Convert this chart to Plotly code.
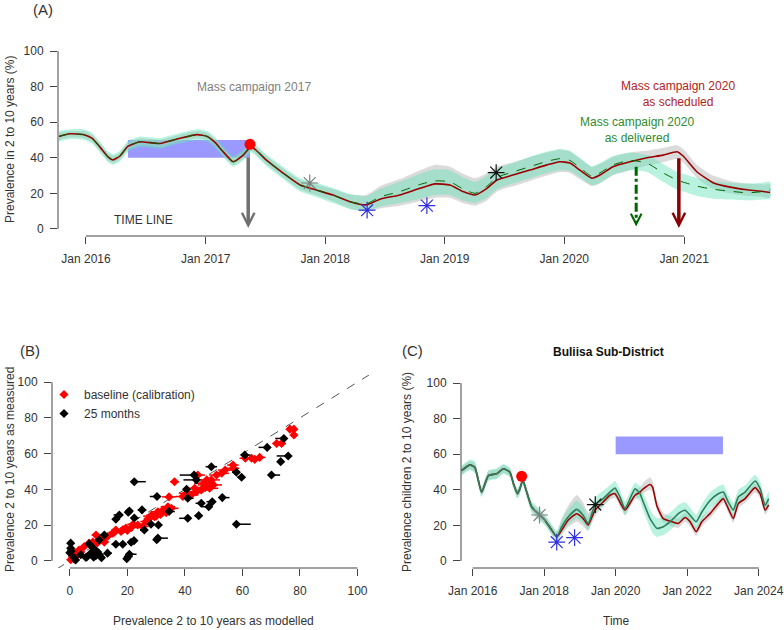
import plotly.graph_objects as go
from datetime import datetime

# ---------------- DATA ----------------
# Panel A: time (decimal years) and prevalence (%) of the two scenario means
A_t = [2015.774, 2015.866, 2015.983, 2016.050, 2016.117, 2016.184, 2016.226, 2016.284, 2016.351, 2016.452,
       2016.535, 2016.619, 2016.702, 2016.786, 2016.928, 2017.012, 2017.079, 2017.137, 2017.229, 2017.313,
       2017.380, 2017.505, 2017.647, 2017.789, 2017.923, 2018.065, 2018.207, 2018.341, 2018.458, 2018.625,
       2018.793, 2018.918, 2019.043, 2019.152, 2019.253, 2019.353, 2019.436, 2019.570, 2019.712, 2019.855,
       2019.963, 2020.047, 2020.130, 2020.231, 2020.298, 2020.406, 2020.548, 2020.691, 2020.824, 2020.941,
       2020.992, 2021.109, 2021.242, 2021.385, 2021.527, 2021.661, 2021.719]
A_sched = [52, 53.5, 53, 51, 46, 40.5, 38.8, 41, 46.5, 49,
           48.5, 48, 49.5, 51, 53, 52, 48.5, 44, 37.8, 41.5,
           46.3, 38.8, 31.4, 24.7, 21.9, 19, 15.3, 13.5, 16.7, 19.1,
           22.8, 25.3, 24.7, 21, 19.1, 22.8, 27.5, 30.3, 33.1, 36,
           37.8, 37, 33.1, 28.5, 30.3, 35, 37.8, 40, 41.5, 43.4,
           41, 32, 26, 23.5, 22, 21, 20.5]
A_deliv = [52, 53.5, 53, 51, 46, 40.5, 38.8, 41, 46.5, 49,
           48.5, 48, 49.5, 51, 53, 52, 48.5, 44, 37.8, 41.5,
           46.3, 38.8, 31.4, 24.7, 21.9, 19, 15.3, 14, 18, 21,
           25, 27, 26.5, 22.5, 20, 24, 29, 32, 35, 38,
           39.5, 38.5, 34.5, 29.5, 31.5, 36, 38.5, 37, 31.5, 27.5,
           26.3, 24, 22.3, 21.2, 20.3, 21, 22]
A_sched_lo = [50, 51.5, 51, 49, 44, 38.5, 37, 39, 44.5, 47,
              46.5, 46, 47.5, 49, 51, 50, 46.5, 42, 36, 39.5,
              44, 36.5, 29, 22, 19, 15.5, 11.5, 9.5, 11.5, 13,
              15.5, 17.5, 17.5, 14.5, 13, 16, 21, 24, 27, 30,
              32, 31.5, 28, 24, 25.5, 30, 33, 35.5, 37.5, 39.5,
              37.5, 28.5, 22.5, 20, 18.5, 18, 17.5]
A_sched_hi = [54, 55, 55, 53, 48, 42.5, 41, 43, 48.5, 51,
              50.5, 50, 51.5, 53, 55, 54, 50.5, 46, 40, 43.5,
              48, 41, 34, 27.5, 25, 22.5, 19.5, 19, 24, 28,
              33, 36, 35, 31, 28.5, 31.5, 35, 37.5, 40.5, 43,
              44.5, 43.5, 39.5, 35, 36.5, 40.5, 43, 44, 45.5, 47,
              45, 36, 30, 27, 25.5, 25, 25]
A_deliv_lo = [49, 50.5, 50, 48, 43, 37.5, 36, 38, 43.5, 46,
              45.5, 45, 46.5, 48, 50, 49, 45.5, 41, 35, 38.5,
              43, 35.5, 28, 21, 18, 14.5, 11, 10, 12.5, 14.5,
              17, 19, 19, 16, 14.5, 17.5, 22.5, 25.5, 28.5, 31.5,
              33, 32.5, 29, 24.5, 26, 30.5, 33, 32, 26.5, 22,
              21, 18.5, 17, 16.5, 16, 16.5, 17]
A_deliv_hi = [55, 56, 56, 54, 49, 43.5, 42, 44, 49.5, 52,
              51.5, 51, 52.5, 54, 56, 55, 51.5, 47, 41, 44.5,
              49, 42, 35, 28.5, 26, 23, 19.5, 18.5, 22.5, 26.5,
              31, 33.5, 33, 29, 26.5, 30, 34, 37, 40.5, 43.5,
              45, 44, 40, 35, 37, 41, 43, 41.5, 36.5, 32,
              31, 28.5, 27, 26, 25.5, 26, 26.5]

# Panel C: Buliisa sub-district projections
C_t = [2015.69, 2015.92, 2016.06, 2016.25, 2016.44, 2016.67, 2016.86, 2017.04, 2017.14, 2017.25,
       2017.32, 2017.40, 2017.51, 2017.65, 2017.83, 2018.02, 2018.21, 2018.35, 2018.49, 2018.67,
       2018.91, 2019.09, 2019.23, 2019.42, 2019.65, 2019.84, 2019.98, 2020.12, 2020.26, 2020.54,
       2020.68, 2020.77, 2020.96, 2021.03, 2021.15, 2021.33, 2021.57, 2021.75, 2021.94, 2022.08,
       2022.25, 2022.41, 2022.64, 2022.87, 2023.01, 2023.15, 2023.29, 2023.43, 2023.62, 2023.90,
       2024.04, 2024.18, 2024.28]
C_sched = [50.8, 54, 52.7, 38.7, 48, 49, 51.8, 49.9, 43.4, 37.8,
           40.6, 45.5, 38.7, 30.3, 26.6, 22.9, 17.3, 13.5, 17.3, 22.9,
           26.5, 23.8, 20.1, 28.5, 33.1, 36.9, 37.8, 33, 28.5, 36.9,
           38.7, 40.5, 43, 41.5, 31, 23.8, 22, 21, 24.4, 22,
           16.4, 22, 26.6, 32.2, 35, 29.4, 23.8, 32.2, 35, 41.2,
           37.8, 28.5, 31.5]
C_deliv = [50.8, 54, 52.7, 38.7, 48, 49, 51.8, 49.9, 43.4, 37.8,
           40.6, 45.5, 38.7, 30.3, 26.6, 22.9, 17.3, 13.5, 19.2, 24.7,
           29, 25.7, 21, 31.3, 35, 38.7, 41, 36, 29.4, 40.6,
           37.8, 33.1, 23.8, 21.5, 18.3, 19.2, 22.9, 26.6, 28.5, 25.7,
           22, 27.5, 34, 37.8, 38.7, 33.1, 28.5, 35.9, 38.7, 44.9,
           40.6, 31.3, 35]
C_sched_lo = [48.5, 51.5, 50, 36.5, 45.5, 46.5, 49.5, 47.5, 41, 35.5,
              38, 43, 36.5, 28, 24, 20.5, 15, 11.5, 14.5, 19,
              22, 19.5, 17, 25, 30.5, 34.5, 35.5, 30.5, 26, 34.5,
              36, 38, 40, 38.5, 28.5, 21.5, 19.5, 18.5, 22, 19.5,
              14, 19.5, 24, 29.5, 32.5, 27, 21.5, 29.5, 32.5, 38.5,
              35.5, 26, 29]
C_sched_hi = [53, 56, 55, 41, 50.5, 51.5, 54, 52, 45.5, 40,
              43, 48, 41, 32.5, 29, 25.5, 20, 16.5, 24, 31,
              37, 33, 27, 33, 36, 39.5, 40.5, 36, 31, 39.5,
              41.5, 44, 47, 45, 34, 27, 25, 24, 27, 24.5,
              19, 24.5, 29, 35, 37.5, 32, 26.5, 35, 37.5, 43.5,
              40, 31, 34]
C_deliv_lo = [48, 51, 49.5, 36, 45, 46, 49, 47, 40.5, 35,
              37.5, 42.5, 35.5, 27, 23.5, 20, 14.5, 11, 15.5, 20.5,
              24, 21, 17, 26.5, 31, 35, 37.5, 32, 25.5, 36,
              33.5, 28, 18.5, 15.5, 13.5, 14.5, 18, 22, 24, 21.5,
              18, 23, 29.5, 33.5, 34.5, 29, 24.5, 31.5, 34.5, 41,
              36.5, 27.5, 31]
C_deliv_hi = [53.5, 57, 56, 41.5, 51, 52, 54.5, 52.5, 46, 40.5,
              43.5, 48.5, 41.5, 33.5, 30, 26, 20.5, 16.5, 23, 29,
              34, 30.5, 25, 35.5, 39.5, 42.5, 45, 40, 33.5, 44,
              42, 38, 29, 26.5, 24, 24.5, 28, 31.5, 33, 30,
              26, 32, 38.5, 42, 43, 37, 32.5, 40, 42.5, 48.5,
              44.5, 35, 39]

# Survey observations (decimal year, prevalence %)
baseline_t, baseline_v = [2017.37], [47.6]
survey_grey_t, survey_grey_v = [2017.87], [25.8]
survey_blue_t, survey_blue_v = [2018.35, 2018.85], [10.5, 13.1]
survey_black_t, survey_black_v = [2019.43], [31.7]

# Campaign dates and time-line boxes
campaign_2017 = 2017.355
campaign_2020_delivered = 2020.60
campaign_2020_scheduled = 2020.956
timeline_A = [2016.35, 2017.37, 40, 50]
timeline_C = [2020.0, 2023.0, 60, 70]

# Panel B: modelled vs measured prevalence
red_x = [0.3, 0.9, 1.5, 2.0, 2.7, 3.2, 3.8, 5.0, 6.7, 8.0,
         9.1, 10.7, 11.5, 13.1, 14.9, 16.0, 17.8, 18.5, 19.5, 21.3,
         22.0, 23.6, 25.3, 26.5, 27.7, 28.5, 29.4, 30.6, 31.5, 32.4,
         33.5, 34.1, 35.3, 36.4, 39.3, 40.5, 42.2, 43.4, 44.0, 45.7,
         46.4, 47.0, 47.5, 47.6, 48.6, 49.2, 49.9, 51.0, 52.8, 54.0,
         56.7, 56.9, 61.0, 63.2, 64.3, 66.0, 71.9, 73.6, 76.5, 77.9,
         77.9, 34.5, 30.0, 28.0, 20.0, 15.5, 12.0, 9.5, 44.5, 48.0]
red_y = [0.6, 2.4, 1.0, 4.5, 3.4, 6.1, 5.0, 8.0, 9.9, 10.5,
         14.5, 11.7, 12.5, 13.6, 15.5, 17.3, 16.4, 17.5, 18.3, 18.7,
         20.5, 20.1, 19.2, 22.0, 23.8, 25.5, 24.7, 27.5, 26.0, 28.5,
         27.0, 30.3, 29.4, 44.3, 36.0, 37.8, 36.9, 40.6, 38.7, 39.7,
         43.4, 41.0, 42.5, 45.3, 40.6, 45.3, 42.5, 48.0, 49.0, 50.8,
         53.6, 51.8, 57.4, 57.4, 56.8, 57.9, 65.7, 65.7, 73.7, 73.7,
         70.4, 35.8, 25.0, 25.0, 17.0, 16.0, 10.5, 10.0, 48.0, 44.0]
red_err = [0.5, 0.5, 0.5, 1, 1, 1, 1, 1, 1, 1,
           1.5, 1.5, 1.5, 1.5, 1.5, 1.5, 2, 2, 2, 2,
           2, 2, 2, 2, 2, 2, 2, 2.5, 2, 2.5,
           2, 2.5, 2.5, 1.5, 2.5, 2.5, 2.5, 3, 2.5, 3,
           3, 3, 3, 2.5, 3, 3, 3, 2.5, 2.5, 2.5,
           2, 2, 2, 2, 2, 2, 1.5, 1.5, 1, 1,
           1, 2.5, 2.5, 2.5, 2, 2, 1.5, 1.5, 2.5, 2.5]
black_x = [22.4, 30.3, 25.1, 20.7, 20.3, 17.2, 16.0, 22.4, 41.0, 44.8,
           25.9, 28.2, 30.8, 30.6, 30.2, 12.0, 10.2, 16.0, 18.4, 21.3,
           22.3, 13.1, 20.7, 20.3, 19.8, 0.3, 0.3, 0.5, 0.0, 1.5,
           3.8, 6.1, 7.3, 8.2, 9.1, 9.7, 11.0, 6.7, 45.7, 48.3,
           44.0, 49.2, 41.0, 40.6, 43.2, 75.9, 73.3, 74.4, 68.6, 60.8,
           57.9, 70.1, 53.0, 49.5, 57.9, 59.7, 34.5, 2.0, 5.6, 8.3, 10.3]
black_y = [44.3, 36.0, 28.5, 27.9, 27.2, 25.7, 23.3, 24.0, 23.8, 25.3,
           17.3, 20.5, 20.1, 12.7, 11.8, 14.5, 11.7, 9.3, 9.3, 10.4,
           11.3, 4.3, 3.7, 2.4, 1.2, 9.9, 7.0, 5.5, 4.5, 1.7,
           3.4, 2.4, 4.3, 7.1, 3.0, 4.9, 1.8, 9.5, 32.2, 30.3,
           45.3, 52.7, 35.0, 40.0, 48.0, 58.7, 55.5, 68.5, 63.5, 59.2,
           20.5, 48.0, 35.4, 33.1, 49.6, 46.8, 27.6, 0.5, 1.9, 2.0, 3.4]
black_minus = [0, 2.5, 1.5, 1, 1, 2, 1, 1, 3, 1.5,
               1.5, 1, 1, 1, 1, 1.5, 1, 1.5, 1, 1,
               1, 1, 1, 1, 0.5, 0.3, 0.3, 0.3, 0.2, 0.5,
               0.5, 1, 1, 1, 1, 1, 1, 1, 2, 2.5,
               4.5, 2, 0.5, 1, 5, 4, 1, 3, 3, 1,
               0.5, 0.5, 0.5, 2, 1.5, 1.5, 0.5, 0.5, 1, 1, 1]
black_plus = [4, 0.5, 1.5, 1, 1, 0.5, 1, 1.5, 0.5, 0.5,
              0.5, 1, 0.5, 3.5, 1, 1, 1, 1, 1, 1,
              1, 1.5, 2.5, 1.5, 1, 0.5, 0.5, 0.5, 0.5, 1,
              1, 1, 1, 1, 1, 1, 1, 1, 1, 0.5,
              0, 2, 2, 1, 0, 0.5, 1, 0.5, 0.5, 2,
              5, 3, 2.5, 0.5, 1, 0.5, 2, 0.5, 1, 1, 1]
identity = [-10, 110]

A_xticks = [2016, 2017, 2018, 2019, 2020, 2021]
C_xticks = [2016, 2018, 2020, 2022, 2024]
y_ticks = [0, 20, 40, 60, 80, 100]


# ---------------- HELPERS ----------------
def to_date(y):
    yr = int(y)
    s, e = datetime(yr, 1, 1), datetime(yr + 1, 1, 1)
    return s + (e - s) * (y - yr)


def dates(ts):
    return [to_date(v) for v in ts]


W, H = 784, 630
TXT = "#333333"
AX = "#444444"
FONT = "Liberation Sans, Arial, sans-serif"

GREY_BAND = "rgba(195,195,195,0.6)"
AQUA_BAND = "rgba(100,228,185,0.45)"
DARKRED = "#990000"
DARKGREEN = "#006400"

fig = go.Figure()


def band(ts, lo, hi, color, xa, ya):
    d = dates(ts)
    fig.add_trace(go.Scatter(x=d + d[::-1], y=list(hi) + list(lo)[::-1], fill="toself",
                             fillcolor=color, mode="lines", line=dict(width=0, shape="spline", smoothing=0.5),
                             hoverinfo="skip", showlegend=False, xaxis=xa, yaxis=ya))


def line(ts, v, color, width, dash, xa, ya):
    fig.add_trace(go.Scatter(x=dates(ts), y=v, mode="lines",
                             line=dict(color=color, width=width, dash=dash, shape="spline", smoothing=0.5),
                             hoverinfo="skip", showlegend=False, xaxis=xa, yaxis=ya))


def survey_marks(xa, ya):
    fig.add_trace(go.Scatter(x=dates(baseline_t), y=baseline_v, mode="markers",
                             marker=dict(symbol="circle", size=11, color="#FF0000"),
                             showlegend=False, xaxis=xa, yaxis=ya))
    for ts, vs, col in [(survey_grey_t, survey_grey_v, "#7F7F7F"),
                        (survey_blue_t, survey_blue_v, "#3030E0"),
                        (survey_black_t, survey_black_v, "#111111")]:
        fig.add_trace(go.Scatter(x=dates(ts), y=vs, mode="markers",
                                 marker=dict(symbol="asterisk-open", size=14, color=col,
                                             line=dict(width=1.2, color=col)),
                                 showlegend=False, xaxis=xa, yaxis=ya))


# ---- Panel A ----
band(A_t, A_sched_lo, A_sched_hi, GREY_BAND, "x", "y")
band(A_t, A_deliv_lo, A_deliv_hi, AQUA_BAND, "x", "y")
line(A_t, A_sched, DARKRED, 1.6, "solid", "x", "y")
line(A_t, A_deliv, DARKGREEN, 1.0, "dash", "x", "y")
survey_marks("x", "y")

# ---- Panel C ----
band(C_t, C_sched_lo, C_sched_hi, GREY_BAND, "x3", "y3")
band(C_t, C_deliv_lo, C_deliv_hi, AQUA_BAND, "x3", "y3")
line(C_t, C_sched, "#A00000", 1.6, "solid", "x3", "y3")
line(C_t, C_deliv, "#2E7D5B", 1.6, "solid", "x3", "y3")
survey_marks("x3", "y3")

# ---- Panel B ----
fig.add_trace(go.Scatter(x=identity, y=identity, mode="lines",
                         line=dict(color="#555555", width=1, dash="dash"),
                         showlegend=False, hoverinfo="skip", xaxis="x2", yaxis="y2"))
fig.add_trace(go.Scatter(x=red_x, y=red_y, mode="markers", name="baseline (calibration)",
                         marker=dict(symbol="diamond", size=7, color="#FF0000"),
                         error_x=dict(type="data", array=red_err, arrayminus=red_err,
                                      color="#FF0000", thickness=1.5, width=0),
                         xaxis="x2", yaxis="y2"))
fig.add_trace(go.Scatter(x=black_x, y=black_y, mode="markers", name="25 months",
                         marker=dict(symbol="diamond", size=7, color="#000000"),
                         error_x=dict(type="data", array=black_plus, arrayminus=black_minus,
                                      color="#000000", thickness=1.5, width=0),
                         xaxis="x2", yaxis="y2"))

# ---------------- AXES ----------------
A_dom_x = [58 / W, 771 / W]
A_dom_y = [1 - 236 / H, 1 - 44 / H]
B_dom_x = [52 / W, 369 / W]
B_dom_y = [1 - 568 / H, 1 - 375 / H]
C_dom_x = [461 / W, 770 / W]
C_dom_y = [1 - 568 / H, 1 - 376 / H]

A_range = [2015.766, 2021.727]
C_range = [2015.674, 2024.316]
B_xrange = [-6.2, 104]
Y_range = [-4, 104]

common = dict(showgrid=False, zeroline=False, showline=False, ticks="outside", ticklen=7,
              tickcolor=AX, tickwidth=1, automargin=False,
              tickfont=dict(size=12, color=TXT, family=FONT))

fig.update_layout(
    xaxis=dict(domain=A_dom_x, anchor="y", type="date", range=[to_date(A_range[0]), to_date(A_range[1])],
               tickvals=dates(A_xticks), ticktext=["Jan %d" % y for y in A_xticks],
               ticklabelstandoff=5, **common),
    yaxis=dict(domain=A_dom_y, anchor="x", range=Y_range, tickvals=y_ticks, ticklabelstandoff=4, **common),
    xaxis2=dict(domain=B_dom_x, anchor="y2", range=B_xrange, tickvals=y_ticks, ticklabelstandoff=5, **common),
    yaxis2=dict(domain=B_dom_y, anchor="x2", range=Y_range, tickvals=y_ticks, ticklabelstandoff=4, **common),
    xaxis3=dict(domain=C_dom_x, anchor="y3", type="date", range=[to_date(C_range[0]), to_date(C_range[1])],
                tickvals=dates(C_xticks), ticktext=["Jan %d" % y for y in C_xticks],
                ticklabelstandoff=5, **common),
    yaxis3=dict(domain=C_dom_y, anchor="x3", range=Y_range, tickvals=y_ticks, ticklabelstandoff=4, **common),
)


# R-style detached axis lines (from first to last tick)
def frac(v, rng):
    return (v - rng[0]) / (rng[1] - rng[0])


shapes = []
for xa, ya, xr, xt in [("x", "y", A_range, A_xticks), ("x2", "y2", B_xrange, y_ticks),
                       ("x3", "y3", C_range, C_xticks)]:
    shapes.append(dict(type="line", xref=xa + " domain", yref=ya + " domain",
                       x0=frac(xt[0], xr), x1=frac(xt[-1], xr), y0=0, y1=0,
                       line=dict(color=AX, width=1)))
    shapes.append(dict(type="line", xref=xa + " domain", yref=ya + " domain",
                       x0=0, x1=0, y0=frac(y_ticks[0], Y_range), y1=frac(y_ticks[-1], Y_range),
                       line=dict(color=AX, width=1)))

# time-line boxes
shapes.append(dict(type="rect", xref="x", yref="y", x0=to_date(timeline_A[0]), x1=to_date(timeline_A[1]),
                   y0=timeline_A[2], y1=timeline_A[3], fillcolor="#9999FF", line=dict(width=0), layer="below"))
shapes.append(dict(type="rect", xref="x3", yref="y3", x0=to_date(timeline_C[0]), x1=to_date(timeline_C[1]),
                   y0=timeline_C[2], y1=timeline_C[3], fillcolor="#9999FF", line=dict(width=0), layer="below"))
# dash-dot shaft of the "as delivered" arrow
shapes.append(dict(type="line", xref="x", yref="y",
                   x0=to_date(campaign_2020_delivered), x1=to_date(campaign_2020_delivered),
                   y0=35, y1=4, line=dict(color=DARKGREEN, width=3, dash="dashdot")))

ann = []


def arrow(t, y_tail, y_head, color, width):
    ann.append(dict(xref="x", yref="y", axref="x", ayref="y", x=to_date(t), y=y_head,
                    ax=to_date(t), ay=y_tail, text="", showarrow=True, arrowhead=5,
                    arrowsize=0.7, arrowwidth=width, arrowcolor=color))


arrow(campaign_2017, 41, 0.5, "#707070", 3.5)
arrow(campaign_2020_scheduled, 40.6, 0.5, "#8B0000", 3.5)
arrow(campaign_2020_delivered, 5, 1.3, DARKGREEN, 3)


def txt(x, y, s, color=TXT, size=12, xref="paper", yref="paper", angle=0, bold=False, xanchor="center"):
    if bold:
        s = "<b>%s</b>" % s
    ann.append(dict(x=x, y=y, xref=xref, yref=yref, text=s, showarrow=False, textangle=angle,
                    xanchor=xanchor, yanchor="middle", font=dict(size=size, color=color, family=FONT)))


txt(to_date(2017.405), 80, "Mass campaign 2017", "#808080", xref="x", yref="y")
txt(to_date(2020.947), 75.8, "Mass campaign 2020<br>as scheduled", "#B22222", xref="x", yref="y")
txt(to_date(2020.604), 55.6, "Mass campaign 2020<br>as delivered", "#2E8B2E", xref="x", yref="y")
txt(to_date(2016.477), 5, "TIME LINE", "#333333", xref="x", yref="y")

txt(31 / W, 1 - 10 / H, "(A)", TXT, size=15, xanchor="left")
txt(18 / W, 1 - 350 / H, "(B)", TXT, size=15, xanchor="left")
txt(400 / W, 1 - 350 / H, "(C)", TXT, size=15, xanchor="left")
txt(608 / W, 1 - 352 / H, "Buliisa Sub-District", "#111111", size=12, bold=True)

txt(10 / W, 1 - 140 / H, "Prevalence in 2 to 10 years (%)", angle=-90)
txt(10 / W, 1 - 470 / H, "Prevalence 2 to 10 years as measured", angle=-90)
txt(213 / W, 1 - 621 / H, "Prevalence 2 to 10 years as modelled")
txt(407 / W, 1 - 472 / H, "Prevalence children 2 to 10 years (%)", angle=-90)
txt(616 / W, 1 - 621 / H, "Time")

fig.update_layout(
    width=W, height=H, margin=dict(l=0, r=0, t=0, b=0, autoexpand=False),
    paper_bgcolor="white", plot_bgcolor="white",
    font=dict(family=FONT, size=12, color=TXT),
    shapes=shapes, annotations=ann,
    showlegend=True,
    legend=dict(x=44 / W, y=1 - 380 / H, xanchor="left", yanchor="top", bgcolor="rgba(0,0,0,0)",
                font=dict(size=12, color=TXT, family=FONT), itemwidth=30, tracegroupgap=0),
)

fig.write_html("out.html", config={"displayModeBar": False},
               post_script="document.body.style.margin='0px';document.body.style.overflow='hidden';")
